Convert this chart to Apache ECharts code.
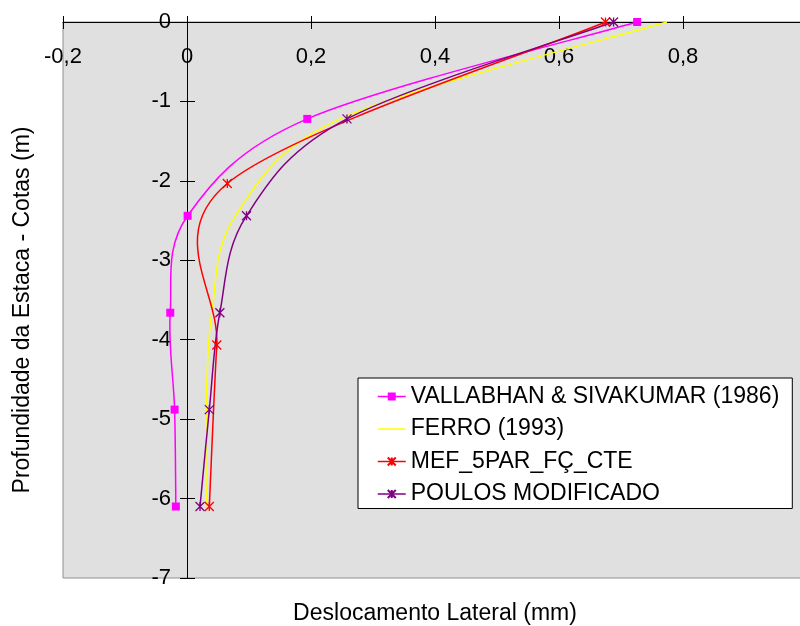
<!DOCTYPE html>
<html>
<head>
<meta charset="utf-8">
<title>Deslocamento lateral da estaca</title>
<script src="https://cdn.jsdelivr.net/npm/echarts@6/dist/echarts.min.js"></script>
<style>
  html, body { margin: 0; padding: 0; background: #fff; }
  #chart { width: 800px; height: 626px; }
</style>
</head>
<body>
<div id="chart"></div>
<script>
// Lateral displacement (mm) along pile depth (m)
const depthsSix = [0, -1.22, -2.44, -3.66, -4.88, -6.10];
const depthsFour = [0, -2.033, -4.067, -6.10];

const vallabhanX = [0.726, 0.194, 0.001, -0.027, -0.020, -0.018];
const ferroX     = [0.774, 0.247, 0.078, 0.040, 0.031, 0.031];
const mefX       = [0.675, 0.065, 0.048, 0.036];
const poulosX    = [0.688, 0.258, 0.096, 0.053, 0.036, 0.021];

const seriesNames = [
  'VALLABHAN & SIVAKUMAR (1986)',
  'FERRO (1993)',
  'MEF_5PAR_FÇ_CTE',
  'POULOS MODIFICADO'
];
const seriesColors = ['#ff00ff', '#ffff00', '#ff0000', '#800080'];

const xRange = [-0.2, 1.0], xStep = 0.2;
const yRange = [-7, 0], yStep = 1;

const xTitle = 'Deslocamento Lateral (mm)';
const yTitle = 'Profundidade da Estaca - Cotas (m)';

const FONT = '"Liberation Sans", Arial, sans-serif';
const STAR = 'path://M5,0L5,10M0,0L10,10M0,10L10,0';

function pairs(xs, ys) { return xs.map((x, i) => [x, ys[i]]); }

const vallabhan = pairs(vallabhanX, depthsSix);
const ferro = pairs(ferroX, depthsSix);
const mef = pairs(mefX, depthsFour);
const poulos = pairs(poulosX, depthsSix);

// Smoothed curve through the points: cubic Bezier segments with
// Catmull-Rom style tangents (1/6 of the neighbour chord, capped to half a segment).
function limitVec(v, maxLen) {
  const len = Math.hypot(v[0], v[1]);
  if (len > maxLen && len > 0) { const s = maxLen / len; return [v[0] * s, v[1] * s]; }
  return v;
}
function splineSeries(id, pts, color) {
  return {
    type: 'custom',
    name: id,
    data: pts,
    encode: { x: 0, y: 1 },
    silent: true,
    z: 2,
    renderItem: function (params, api) {
      const i = params.dataIndex;
      const n = pts.length;
      if (i >= n - 1) return { type: 'group', children: [] };
      const P = k => api.coord(pts[Math.max(0, Math.min(n - 1, k))]);
      const p0 = P(i - 1), p1 = P(i), p2 = P(i + 1), p3 = P(i + 2);
      const half = Math.hypot(p2[0] - p1[0], p2[1] - p1[1]) / 2;
      const t1 = limitVec([(p2[0] - p0[0]) / 6, (p2[1] - p0[1]) / 6], half);
      const t2 = limitVec([(p3[0] - p1[0]) / 6, (p3[1] - p1[1]) / 6], half);
      return {
        type: 'bezierCurve',
        shape: {
          x1: p1[0], y1: p1[1], x2: p2[0], y2: p2[1],
          cpx1: p1[0] + t1[0], cpy1: p1[1] + t1[1],
          cpx2: p2[0] - t2[0], cpy2: p2[1] - t2[1]
        },
        style: { fill: 'none', stroke: color, lineWidth: 1.5 }
      };
    }
  };
}

function markerSeries(name, pts, color, symbol, size) {
  return {
    type: 'line',
    name: name,
    data: pts,
    symbol: symbol,
    symbolSize: size,
    symbolKeepAspect: true,
    showSymbol: symbol !== 'none',
    lineStyle: { color: color, opacity: 0, width: 1.5 },
    itemStyle: { color: color, borderColor: color, borderWidth: symbol === 'rect' ? 0 : 1.3 },
    z: 3
  };
}

function fmtX(v) {
  if (Math.abs(v) < 1e-9) return '0';
  return (Math.round(v * 10) / 10).toFixed(1).replace('.', ',').replace(/,0$/, '');
}

const chart = echarts.init(document.getElementById('chart'), null, { renderer: 'canvas' });

const option = {
  animation: false,
  backgroundColor: '#ffffff',
  textStyle: { fontFamily: FONT },
  grid: {
    left: 63, top: 22, right: -7, bottom: 48,
    containLabel: false,
    outerBoundsMode: 'none',
    show: true,
    backgroundColor: '#e0e0e0',
    borderColor: '#909090',
    borderWidth: 1
  },
  legend: {
    orient: 'vertical',
    left: 358, top: 378,
    backgroundColor: '#ffffff',
    borderColor: '#000000',
    borderWidth: 1,
    borderRadius: 0,
    padding: [7, 13, 3, 19],
    itemGap: 9.5,
    itemWidth: 28,
    itemHeight: 10,
    selectedMode: false,
    textStyle: { fontSize: 23, lineHeight: 23, color: '#000', fontFamily: FONT },
    lineStyle: { width: 1.5, opacity: 1 },
    data: [
      { name: seriesNames[0] },
      { name: seriesNames[1], itemStyle: { opacity: 0 } },
      { name: seriesNames[2] },
      { name: seriesNames[3] }
    ]
  },
  xAxis: [
    {
      // main axis at depth 0 with labels below it
      type: 'value', position: 'top',
      min: xRange[0], max: xRange[1], interval: xStep,
      axisLine: { onZero: false, lineStyle: { color: '#000', width: 1 } },
      axisTick: { show: true, inside: false, length: 6, lineStyle: { color: '#000' } },
      axisLabel: { inside: true, margin: 24, fontSize: 22, color: '#000', fontFamily: FONT, formatter: fmtX },
      splitLine: { show: false }
    },
    {
      // inner half of the crossing ticks
      type: 'value', position: 'top',
      min: xRange[0], max: xRange[1], interval: xStep,
      axisLine: { show: false, onZero: false },
      axisTick: { show: true, inside: true, length: 7, lineStyle: { color: '#000' } },
      axisLabel: { show: false },
      splitLine: { show: false }
    },
    {
      // carries the horizontal axis title under the plot
      type: 'value', position: 'bottom',
      min: xRange[0], max: xRange[1], interval: xStep,
      axisLine: { show: false, onZero: false },
      axisTick: { show: false },
      axisLabel: { show: false },
      splitLine: { show: false },
      name: xTitle,
      nameLocation: 'middle',
      nameGap: 24,
      nameTextStyle: { fontSize: 23, color: '#000', fontFamily: FONT }
    }
  ],
  yAxis: [
    {
      type: 'value', position: 'left',
      min: yRange[0], max: yRange[1], interval: yStep,
      axisLine: { show: true, onZero: false, lineStyle: { color: '#000', width: 1 } },
      axisTick: { show: true, inside: false, length: 7, lineStyle: { color: '#000' } },
      axisLabel: { margin: 16, fontSize: 22, color: '#000', fontFamily: FONT },
      splitLine: { show: false },
      name: yTitle,
      nameLocation: 'middle',
      nameGap: 153,
      nameRotate: 90,
      nameTextStyle: { fontSize: 23, color: '#000', fontFamily: FONT, padding: [0, 20, 0, 0] }
    },
    {
      // inner half of the crossing ticks
      type: 'value', position: 'left',
      min: yRange[0], max: yRange[1], interval: yStep,
      axisLine: { show: false, onZero: false },
      axisTick: { show: true, inside: true, length: 8, lineStyle: { color: '#000' } },
      axisLabel: { show: false },
      splitLine: { show: false }
    }
  ],
  series: [
    splineSeries('curva-vallabhan', vallabhan, seriesColors[0]),
    splineSeries('curva-ferro', ferro, seriesColors[1]),
    splineSeries('curva-mef', mef, seriesColors[2]),
    splineSeries('curva-poulos', poulos, seriesColors[3]),
    markerSeries(seriesNames[0], vallabhan, seriesColors[0], 'rect', 8),
    markerSeries(seriesNames[1], ferro, seriesColors[1], 'none', 0),
    markerSeries(seriesNames[2], mef, seriesColors[2], STAR, 9),
    markerSeries(seriesNames[3], poulos, seriesColors[3], STAR, 9)
  ]
};

chart.setOption(option);

// Move the vertical axis onto x = 0 of the horizontal scale.
const zeroPx = chart.convertToPixel({ xAxisIndex: 0 }, 0);
const leftPx = chart.convertToPixel({ xAxisIndex: 0 }, xRange[0]);
const shift = leftPx - zeroPx;
chart.setOption({ yAxis: [{ offset: shift }, { offset: shift }] });
</script>
</body>
</html>
